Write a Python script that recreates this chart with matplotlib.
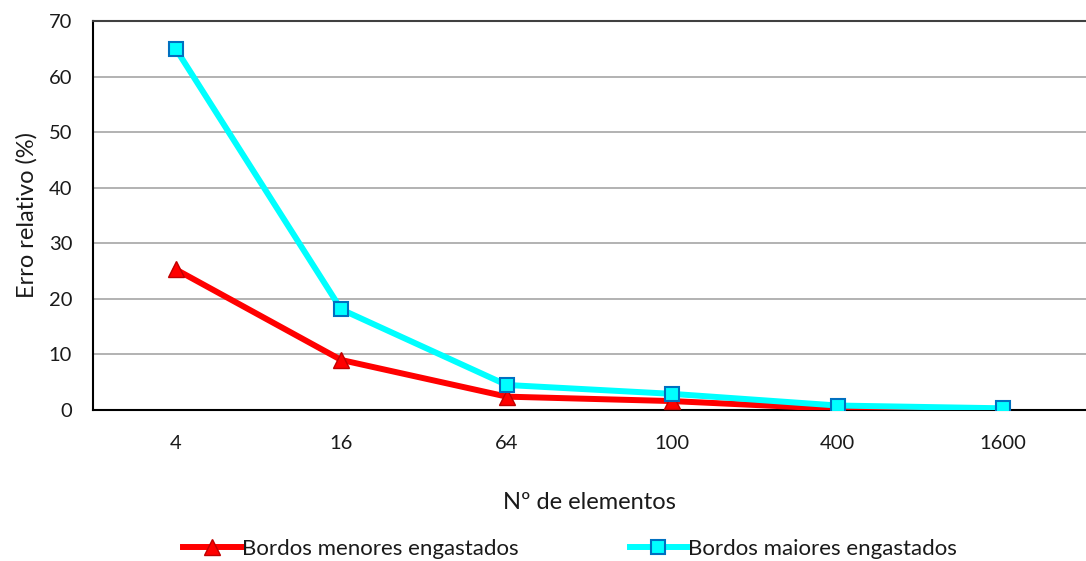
import matplotlib.pyplot as plt

# data
elementos = ["4", "16", "64", "100", "400", "1600"]
bordos_menores = [25.3, 9.0, 2.4, 1.6, 0.2, 0.1]
bordos_maiores = [65.0, 18.1, 4.5, 2.9, 0.8, 0.3]

plt.rcParams["font.family"] = ["Lato", "DejaVu Sans"]

fig = plt.figure(figsize=(10.86, 5.61), dpi=100)
ax = fig.add_axes([0.0856, 0.2692, 0.9144, 0.6934])

x = list(range(len(elementos)))
ax.plot(x, bordos_menores, color="#FF0000", linewidth=4.3, marker="^",
        markersize=12, markerfacecolor="#FF0000", markeredgecolor="#C00000",
        markeredgewidth=1, label="Bordos menores engastados", zorder=3)
ax.plot(x, bordos_maiores, color="#00FFFF", linewidth=4.3, marker="s",
        markersize=10, markerfacecolor="#00FFFF", markeredgecolor="#0070C0",
        markeredgewidth=1.5, label="Bordos maiores engastados", zorder=4)

ax.set_xlim(-0.5, len(elementos) - 0.5)
ax.set_ylim(0, 70)
ax.set_yticks(range(0, 71, 10))
ax.set_xticks(x)
ax.set_xticklabels(elementos)
ax.tick_params(axis="both", labelsize=14.5, length=0, labelcolor="#1a1a1a")
ax.tick_params(axis="x", pad=18)
ax.tick_params(axis="y", pad=15)
ax.grid(axis="y", color="#A6A6A6", linewidth=1.2)
ax.set_axisbelow(True)
for s in ["left", "bottom"]:
    ax.spines[s].set_linewidth(1.5)
ax.spines["top"].set_linewidth(1.5)
ax.spines["top"].set_color("#404040")
ax.spines["right"].set_visible(False)

ax.set_xlabel("Nº de elementos", fontsize=17, labelpad=29, color="#1a1a1a")
ax.set_ylabel("Erro relativo (%)", fontsize=17, labelpad=8, color="#1a1a1a")

fig.legend(loc="center", bbox_to_anchor=(0.525, 0.022), ncol=2, frameon=False,
           fontsize=16, columnspacing=5, handlelength=2.6, handletextpad=0.05,
           labelcolor="#1a1a1a")

fig.savefig("out.png", dpi=100)
